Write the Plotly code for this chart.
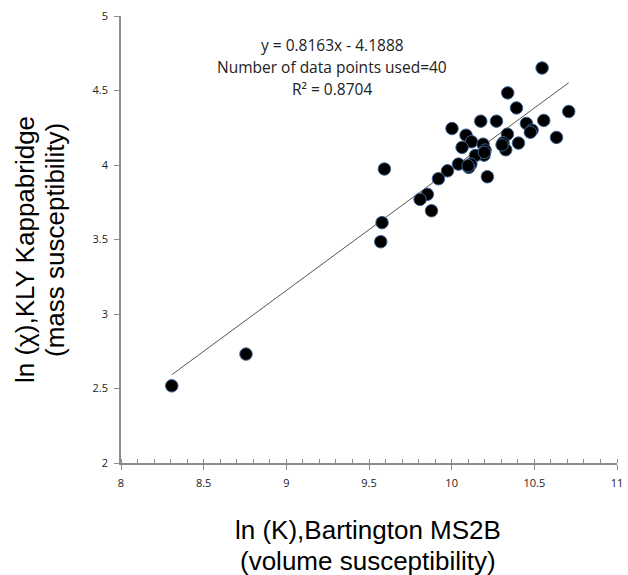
import plotly.graph_objects as go

# Data
bartington_ln_k = [10.547, 10.339, 10.392, 10.708, 10.176, 10.271, 10.557, 10.002, 10.452, 10.486,
                   10.476, 10.087, 10.337, 10.120, 10.190, 10.311, 10.404, 10.634, 10.063, 10.327,
                   10.202, 10.196, 10.144, 10.041, 10.116, 10.103, 9.975, 9.593, 9.920, 10.216,
                   9.853, 9.809, 9.878, 9.579, 9.571, 8.756, 8.307, 10.305, 10.198, 10.099]
kly_ln_chi = [4.651, 4.484, 4.383, 4.359, 4.294, 4.294, 4.299, 4.245, 4.279, 4.234,
              4.220, 4.200, 4.207, 4.156, 4.140, 4.149, 4.147, 4.185, 4.118, 4.102,
              4.100, 4.066, 4.064, 4.006, 4.006, 3.984, 3.961, 3.973, 3.908, 3.921,
              3.803, 3.769, 3.693, 3.613, 3.485, 2.731, 2.518, 4.135, 4.085, 3.995]

slope = 0.8163
intercept = -4.1888
eq_lines = ["y = 0.8163x - 4.1888", "Number of data points used=40", "R² = 0.8704"]
x_title_lines = ["ln (K),Bartington MS2B", "(volume susceptibility)"]
y_title_lines = ["ln (χ),KLY Kappabridge", "(mass susceptibility)"]

x_min, x_max = min(bartington_ln_k), max(bartington_ln_k)
trend_x = [x_min, x_max]
trend_y = [slope * v + intercept for v in trend_x]

fig = go.Figure()
fig.add_trace(go.Scatter(x=trend_x, y=trend_y, mode="lines",
                         line=dict(color="#555555", width=1), hoverinfo="skip"))
fig.add_trace(go.Scatter(x=bartington_ln_k, y=kly_ln_chi, mode="markers",
                         marker=dict(size=12.5, color="black",
                                     line=dict(color="#3d6290", width=1))))

L, R, T, B = 121, 11, 16, 112
W, H = 628, 575
pw, ph = W - L - R, H - T - B

def px(xp):
    return (xp - L) / pw

def py(yp):
    return (H - B - yp) / ph

annotations = []
for text, yp in zip(eq_lines, [45, 67, 89]):
    annotations.append(dict(text=text, x=px(332), y=py(yp), xref="paper", yref="paper",
                            xanchor="center", yanchor="middle", showarrow=False,
                            font=dict(family="Open Sans", size=15.5, color="#222222")))
for text, yp in zip(x_title_lines, [530, 561]):
    annotations.append(dict(text=text, x=px(368), y=py(yp), xref="paper", yref="paper",
                            xanchor="center", yanchor="middle", showarrow=False,
                            font=dict(family="Liberation Sans", size=26, color="black")))
for text, xp, yp in zip(y_title_lines, [25, 55], [250, 240]):
    annotations.append(dict(text=text, x=px(xp), y=py(yp), xref="paper", yref="paper",
                            xanchor="center", yanchor="middle", showarrow=False, textangle=-90,
                            font=dict(family="Liberation Sans", size=26, color="black")))

axis_common = dict(showgrid=False, zeroline=False, showline=True, linecolor="#8c8c8c",
                   linewidth=1.5, ticks="outside", ticklen=5, tickcolor="#8c8c8c",
                   automargin=False,
                   tickfont=dict(family="Open Sans", size=11, color="#222222"))

fig.update_layout(
    width=W, height=H, showlegend=False,
    margin=dict(l=L, r=R, t=T, b=B, autoexpand=False),
    paper_bgcolor="white", plot_bgcolor="white",
    xaxis=dict(range=[8, 11], dtick=0.5, tick0=8, ticklabelstandoff=4,
               minor=dict(ticks="inside", ticklen=4, dtick=0.1, tickcolor="#8c8c8c"),
               **axis_common),
    yaxis=dict(range=[2, 5], dtick=0.5, tick0=2, ticklabelstandoff=4, **axis_common),
    annotations=annotations,
)

fig.write_html("out.html")
